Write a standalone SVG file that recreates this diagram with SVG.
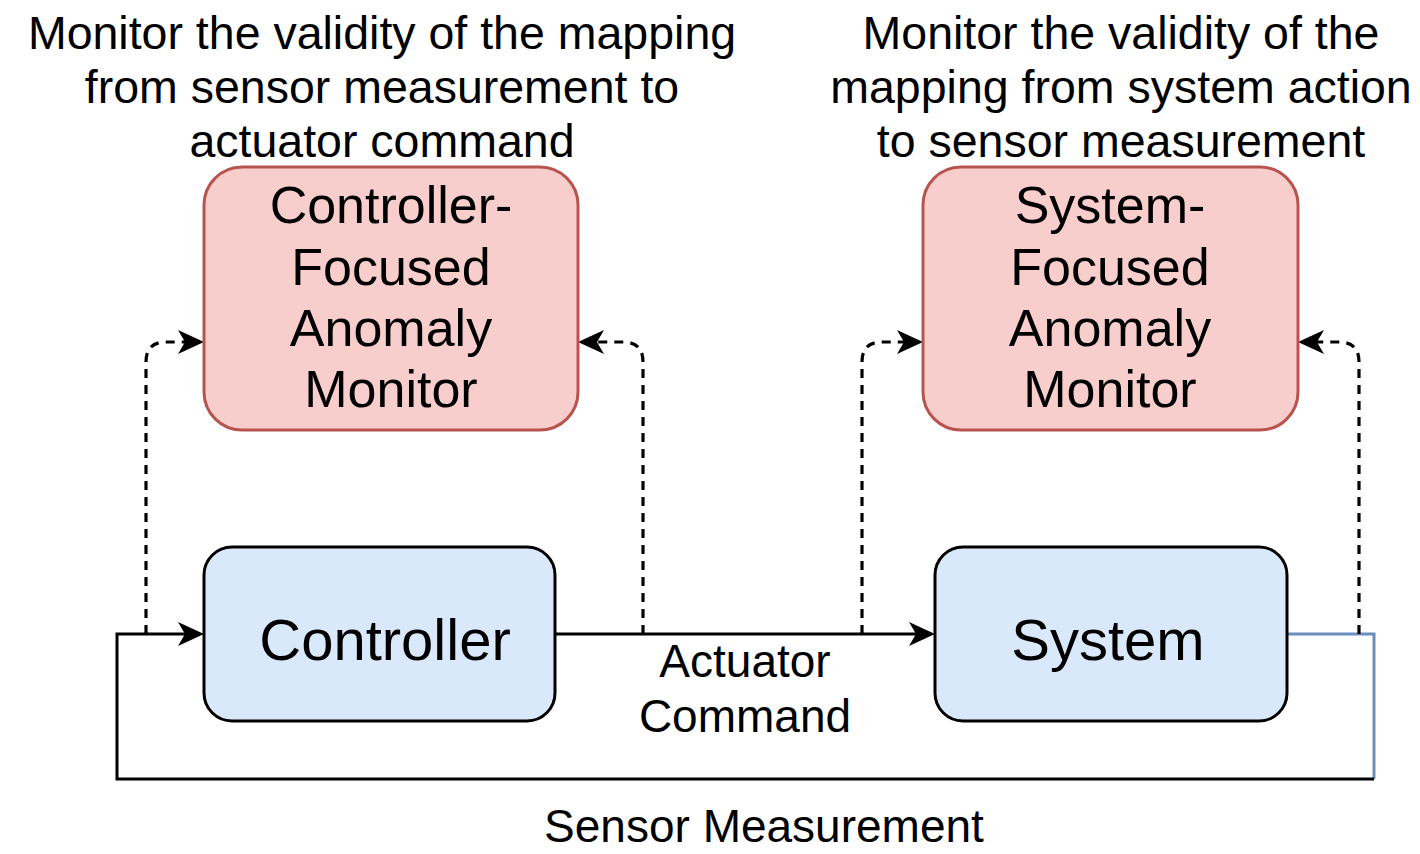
<svg xmlns="http://www.w3.org/2000/svg" width="1420" height="854" viewBox="0 0 1420 854">
<style>
text{font-family:"Liberation Sans",Arial,sans-serif;fill:#000;text-anchor:middle}
.t46{font-size:46px}
.tt{font-size:46.5px}
.t52{font-size:52px}
.t58{font-size:58px}
.pink{fill:#f8cecc;stroke:#b85450;stroke-width:3}
.blue{fill:#dae8fc;stroke:#000;stroke-width:3}
.ln{fill:none;stroke:#000;stroke-width:3}
.dash{fill:none;stroke:#000;stroke-width:3.2;stroke-dasharray:9 7}
.bl{fill:none;stroke:#6c8ebf;stroke-width:3}
</style>
<defs>
<marker id="arr" viewBox="0 -13 27 26" markerWidth="27" markerHeight="26" refX="7" refY="0" orient="auto" markerUnits="userSpaceOnUse">
<path d="M0,-12 L26,0 L0,12 L7,0 Z" fill="#000" stroke="none"/>
</marker>
</defs>
<g id="title-left">
<text class="tt" x="382" y="49">Monitor the validity of the mapping</text>
<text class="tt" x="382" y="103">from sensor measurement to</text>
<text class="tt" x="382" y="157">actuator command</text>
</g>
<g id="title-right">
<text class="tt" x="1121" y="49">Monitor the validity of the</text>
<text class="tt" x="1121" y="103">mapping from system action</text>
<text class="tt" x="1121" y="157">to sensor measurement</text>
</g>
<g id="connectors">
<path class="bl" d="M1287,634 H1374 V779"/>
<path class="ln" d="M1374,779 H117 V634 H185" marker-end="url(#arr)"/>
<path class="ln" d="M555,634 H916" marker-end="url(#arr)"/>
<path class="dash" d="M146,634 V362 Q146,342 166,342 H185" marker-end="url(#arr)"/>
<path class="dash" d="M643,634 V362 Q643,342 623,342 H597" marker-end="url(#arr)"/>
<path class="dash" d="M862,634 V362 Q862,342 882,342 H904" marker-end="url(#arr)"/>
<path class="dash" d="M1359,634 V362 Q1359,342 1339,342 H1317" marker-end="url(#arr)"/>
</g>
<g id="controller-monitor">
<rect class="pink" x="204" y="167" width="374" height="263" rx="38"/>
<text class="t52" x="391" y="223">Controller-</text>
<text class="t52" x="391" y="285">Focused</text>
<text class="t52" x="391" y="346">Anomaly</text>
<text class="t52" x="391" y="407">Monitor</text>
</g>
<g id="system-monitor">
<rect class="pink" x="923" y="167" width="375" height="263" rx="38"/>
<text class="t52" x="1110" y="223">System-</text>
<text class="t52" x="1110" y="285">Focused</text>
<text class="t52" x="1110" y="346">Anomaly</text>
<text class="t52" x="1110" y="407">Monitor</text>
</g>
<g id="controller">
<rect class="blue" x="204" y="547" width="351" height="174" rx="28"/>
<text class="t58" x="385" y="660">Controller</text>
</g>
<g id="system">
<rect class="blue" x="935" y="547" width="352" height="174" rx="28"/>
<text class="t58" x="1108" y="660">System</text>
</g>
<g id="labels">
<text class="t46" x="745" y="677">Actuator</text>
<text class="t46" x="745" y="732">Command</text>
<text class="t46" x="764" y="842">Sensor Measurement</text>
</g>
</svg>
